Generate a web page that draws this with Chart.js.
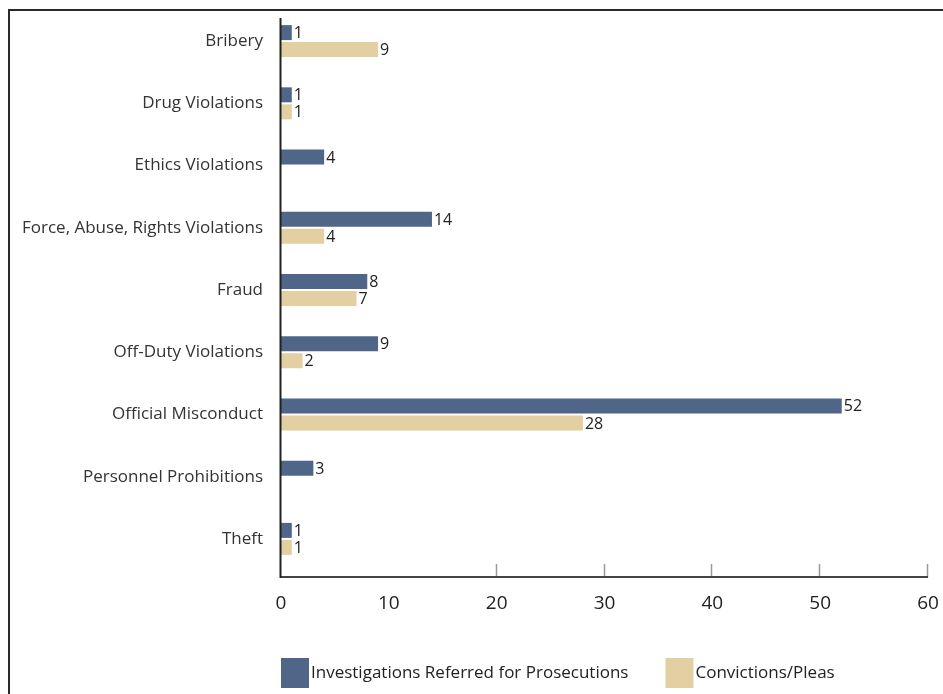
<!DOCTYPE html>
<html>
<head>
<meta charset="utf-8">
<script src="https://cdn.jsdelivr.net/npm/chart.js@4.4.1/dist/chart.umd.min.js"></script>
<style>
  html, body { margin: 0; padding: 0; background: #fff; }
  #wrap { position: relative; width: 943px; height: 694px; overflow: hidden; }
  #frame { position: absolute; left: 8px; top: 9px; width: 1000px; height: 800px;
           border-left: 2px solid #2a2a2a; border-top: 2px solid #2a2a2a; }
  canvas { position: absolute; left: 0; top: 0; }
</style>
</head>
<body>
<div id="wrap">
  <div id="frame"></div>
  <canvas id="chart" width="943" height="694"></canvas>
</div>
<script>
const categories = [
  "Bribery", "Drug Violations", "Ethics Violations", "Force, Abuse, Rights Violations",
  "Fraud", "Off-Duty Violations", "Official Misconduct", "Personnel Prohibitions", "Theft"
];
const referred = [1, 1, 4, 14, 8, 9, 52, 3, 1];
const convictions = [9, 1, null, 4, 7, 2, 28, null, 1];
const xTicks = [0, 10, 20, 30, 40, 50, 60];

const FONT = "'Open Sans', 'Noto Sans', sans-serif";

// value labels at bar ends
const barLabels = {
  id: "barLabels",
  afterDatasetsDraw(chart) {
    const ctx = chart.ctx;
    ctx.save();
    ctx.font = "16px " + FONT;
    ctx.fillStyle = "#222";
    ctx.textAlign = "left";
    ctx.textBaseline = "middle";
    chart.data.datasets.forEach((ds, i) => {
      chart.getDatasetMeta(i).data.forEach((bar, j) => {
        if (ds.data[j] == null) return;
        ctx.fillText(ds.data[j], bar.x + 2, bar.y + 1);
      });
    });
    ctx.restore();
  }
};

// axis lines sit a bit outside the category band, with short marks pointing up
const axes = {
  id: "axes",
  afterDatasetsDraw(chart) {
    const ctx = chart.ctx;
    const x = chart.scales.x;
    const a = chart.chartArea;
    const axisY = a.bottom + 7;
    ctx.save();
    ctx.strokeStyle = "#999";
    ctx.lineWidth = 1.5;
    x.ticks.forEach((t) => {
      if (t.value < 20) return; // reference shows no marks at 0 and 10
      const px = Math.round(x.getPixelForValue(t.value)) - 0.5;
      ctx.beginPath();
      ctx.moveTo(px, axisY - 13);
      ctx.lineTo(px, axisY);
      ctx.stroke();
    });
    ctx.lineWidth = 2;
    ctx.strokeStyle = "#444";
    ctx.beginPath();
    ctx.moveTo(a.left - 1, axisY);
    ctx.lineTo(a.right, axisY);
    ctx.stroke();
    ctx.strokeStyle = "#222";
    ctx.beginPath();
    ctx.moveTo(a.left - 0.5, a.top + 8);
    ctx.lineTo(a.left - 0.5, axisY + 1);
    ctx.stroke();
    ctx.restore();
  }
};

// legend drawn by hand so the text can sit right next to the swatch
const legend = {
  id: "legendBoxes",
  afterDraw(chart) {
    const ctx = chart.ctx;
    let cx = chart.chartArea.left;
    const top = 658;
    ctx.save();
    ctx.font = "17px " + FONT;
    ctx.textBaseline = "middle";
    chart.data.datasets.forEach((ds) => {
      ctx.fillStyle = ds.backgroundColor;
      ctx.fillRect(cx, top, 28, 30);
      ctx.fillStyle = "#222";
      ctx.fillText(ds.label, cx + 30, top + 15);
      cx += 30 + ctx.measureText(ds.label).width + 37;
    });
    ctx.restore();
  }
};

new Chart(document.getElementById("chart"), {
  type: "bar",
  data: {
    labels: categories,
    datasets: [
      {
        label: "Investigations Referred for Prosecutions",
        data: referred,
        backgroundColor: "#4f6688",
        categoryPercentage: 0.547,
        barPercentage: 0.882
      },
      {
        label: "Convictions/Pleas",
        data: convictions,
        backgroundColor: "#e3d0a2",
        categoryPercentage: 0.547,
        barPercentage: 0.882
      }
    ]
  },
  options: {
    indexAxis: "y",
    responsive: false,
    animation: false,
    layout: { padding: { top: 10, right: 15, bottom: 0, left: 0 } },
    plugins: {
      tooltip: { enabled: false },
      legend: { display: false }
    },
    scales: {
      x: {
        min: 0,
        max: 60,
        afterBuildTicks: (s) => { s.ticks = xTicks.map((v) => ({ value: v })); },
        afterFit: (s) => {
          s.height = 124;
          s.paddingLeft = 0;
          s.paddingRight = 0;
        },
        grid: { display: false, drawTicks: false },
        border: { display: false },
        ticks: {
          color: "#222",
          padding: 22,
          font: { family: FONT, size: 19 }
        }
      },
      y: {
        afterFit: (s) => {
          s.width = 281;
          s.paddingTop = 0;
          s.paddingBottom = 0;
        },
        grid: { display: false, drawTicks: false },
        border: { display: false },
        ticks: {
          color: "#333",
          padding: 18,
          font: { family: FONT, size: 17 }
        }
      }
    }
  },
  plugins: [barLabels, axes, legend]
});
</script>
</body>
</html>
